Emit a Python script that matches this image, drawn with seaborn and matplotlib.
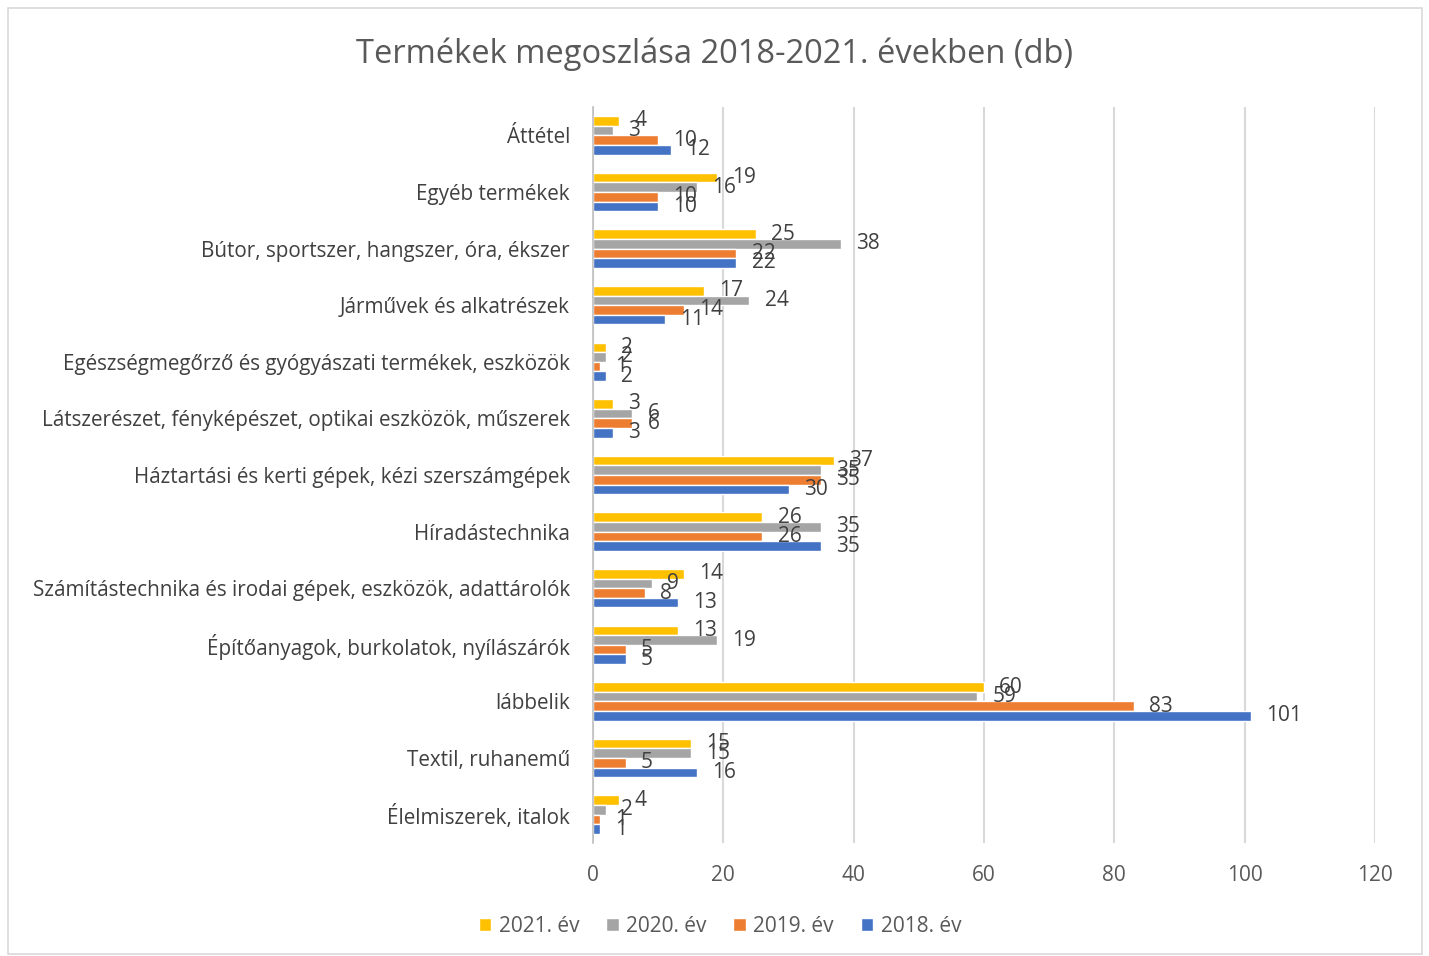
import matplotlib
matplotlib.use("Agg")
import matplotlib.pyplot as plt
import seaborn as sns
import pandas as pd
from matplotlib.patches import Rectangle

categories = [
    "Áttétel",
    "Egyéb termékek",
    "Bútor, sportszer, hangszer, óra, ékszer",
    "Járművek és alkatrészek",
    "Egészségmegőrző és gyógyászati termékek, eszközök",
    "Látszerészet, fényképészet, optikai eszközök, műszerek",
    "Háztartási és kerti gépek, kézi szerszámgépek",
    "Híradástechnika",
    "Számítástechnika és irodai gépek, eszközök, adattárolók",
    "Építőanyagok, burkolatok, nyílászárók",
    "lábbelik",
    "Textil, ruhanemű",
    "Élelmiszerek, italok",
]
years = ["2021. év", "2020. év", "2019. év", "2018. év"]
v2021 = [4, 19, 25, 17, 2, 3, 37, 26, 14, 13, 60, 15, 4]
v2020 = [3, 16, 38, 24, 2, 6, 35, 35, 9, 19, 59, 15, 2]
v2019 = [10, 10, 22, 14, 1, 6, 35, 26, 8, 5, 83, 5, 1]
v2018 = [12, 10, 22, 11, 2, 3, 30, 35, 13, 5, 101, 16, 1]
colors = ["#FFC000", "#A5A5A5", "#ED7D31", "#4472C4"]

rows = []
for yr, vals in zip(years, [v2021, v2020, v2019, v2018]):
    for c, v in zip(categories, vals):
        rows.append({"Kategória": c, "Év": yr, "db": v})
df = pd.DataFrame(rows)

sns.set_theme(style="white")
plt.rcParams["font.family"] = ["Open Sans", "DejaVu Sans"]
txt = "#595959"
lbl = "#404040"

fig = plt.figure(figsize=(14.29, 9.56), dpi=100)
ax = fig.add_axes([593 / 1429, 1 - 843 / 956, (1375 - 593) / 1429, (843 - 107) / 956])

sns.barplot(data=df, y="Kategória", x="db", hue="Év", order=categories,
            hue_order=years, palette=colors, orient="h", width=0.68,
            saturation=1, ax=ax, legend=True)

for cont in ax.containers:
    ax.bar_label(cont, padding=11, fontsize=15, color=lbl)

ax.set_xlim(0, 120)
ax.set_xticks(range(0, 121, 20))
ax.xaxis.grid(True, color="#D9D9D9", linewidth=1.5)
ax.set_axisbelow(True)
for s in ["top", "right", "bottom"]:
    ax.spines[s].set_visible(False)
ax.spines["left"].set_color("#BFBFBF")
ax.spines["left"].set_linewidth(1.2)
ax.set_xlabel("")
ax.set_ylabel("")
ax.tick_params(axis="y", length=0, labelsize=14.9, colors=lbl, pad=16.5)
ax.tick_params(axis="x", length=0, labelsize=15, colors=txt, pad=15.5)

handles, labels = ax.get_legend_handles_labels()
ax.legend_.remove()
fig.legend(handles, labels, loc="center", bbox_to_anchor=(720 / 1429, 1 - 926 / 956),
           ncol=4, frameon=False, fontsize=15, handlelength=0.6, handleheight=0.6,
           handletextpad=0.35, columnspacing=1.3, labelcolor=txt)

fig.text(715 / 1429, 1 - 54 / 956, "Termékek megoszlása 2018-2021. években (db)",
         ha="center", va="center", fontsize=23.5, color=txt)

fig.patches.append(Rectangle((8 / 1429, 2 / 956), 1414 / 1429, 946 / 956,
                             transform=fig.transFigure, fill=False,
                             edgecolor="#D9D9D9", linewidth=1.2))

fig.savefig("out.png", dpi=100)
